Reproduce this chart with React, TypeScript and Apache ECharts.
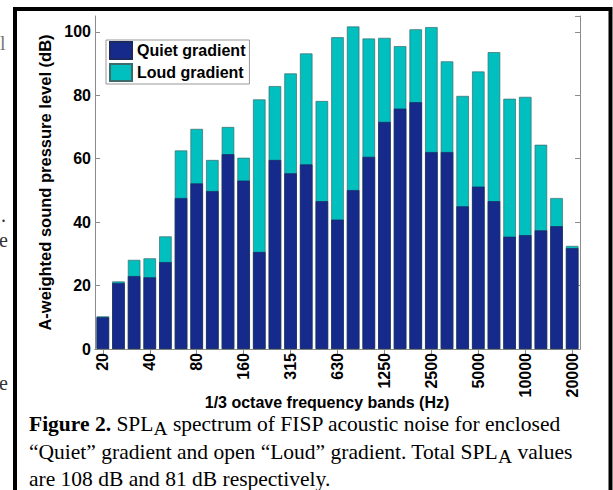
import React, { useEffect, useRef } from "react";
import * as echarts from "echarts";

const bands = ["20","25","31.5","40","50","63","80","100","125","160","200","250","315","400","500","630","800","1000","1250","1600","2000","2500","3150","4000","5000","6300","8000","10000","12500","16000","20000"];
const quiet = [10.0,20.8,23.0,22.6,27.4,47.6,52.2,49.8,61.4,53.1,30.6,59.6,55.4,58.2,46.6,40.8,50.1,60.6,71.6,75.8,77.8,62.1,62.1,45.0,51.2,46.6,35.4,35.9,37.4,38.7,31.8];
const loud = [10.3,21.3,28.1,28.6,35.5,62.6,69.4,59.6,70.0,60.3,78.7,82.9,86.9,93.2,78.2,98.3,101.7,97.9,98.1,95.5,100.8,101.5,90.7,79.8,87.5,93.6,78.9,79.5,64.4,47.6,32.5];
const seriesNames = ["Quiet gradient", "Loud gradient"];
const yTitle = "A-weighted sound pressure level (dB)";
const xTitle = "1/3 octave frequency bands (Hz)";

const SERIF = "'Liberation Serif', 'Times New Roman', serif";
const SANS = "'Liberation Sans', Arial, sans-serif";
const CAP = 21.5;

function measure(text: string, weight: string, size: number) {
  const c = document.createElement("canvas").getContext("2d")!;
  c.font = `${weight} ${size}px 'Liberation Serif'`;
  return c.measureText(text).width;
}

function captionLine(parts: { t: string; b?: boolean; sub?: boolean }[], x0: number, y: number) {
  const els: any[] = [];
  let x = x0;
  for (const p of parts) {
    const size = p.sub ? CAP - 2 : CAP;
    const weight = p.b ? "bold" : "normal";
    els.push({
      type: "text",
      x,
      y: p.sub ? y + 4 : y,
      style: {
        text: p.t,
        fontFamily: SERIF,
        fontSize: size,
        fontWeight: weight,
        fill: "#000",
        verticalAlign: "middle",
        align: "left",
      },
    });
    x += measure(p.t, weight, size);
  }
  return els;
}

export default function App() {
  const ref = useRef<HTMLDivElement>(null);
  useEffect(() => {
    const chart = echarts.init(ref.current!, undefined, { renderer: "svg" });
    const axisGray = "#8c8c8c";
    const graphics: any[] = [
      { type: "rect", shape: { x: 15, y: 9, width: 595.5, height: 620 }, style: { fill: "none", stroke: "#000", lineWidth: 4 } },
      { type: "text", x: 0, y: 43, style: { text: "l", fontFamily: SERIF, fontSize: 20, fill: "#777", verticalAlign: "middle" } },
      { type: "text", x: 1, y: 215, style: { text: ".", fontFamily: SERIF, fontSize: 20, fill: "#333", verticalAlign: "middle" } },
      { type: "text", x: -1, y: 240, style: { text: "e", fontFamily: SERIF, fontSize: 20, fill: "#333", verticalAlign: "middle" } },
      { type: "text", x: -1, y: 383, style: { text: "e", fontFamily: SERIF, fontSize: 20, fill: "#333", verticalAlign: "middle" } },
      { type: "text", x: 327, y: 402, style: { text: xTitle, fontFamily: SANS, fontSize: 16, fontWeight: "bold", fill: "#000", align: "center", verticalAlign: "middle" } },
      ...captionLine([{ t: "Figure 2.", b: true }, { t: " SPL" }, { t: "A", sub: true }, { t: " spectrum of FISP acoustic noise for enclosed" }], 29, 424),
      ...captionLine([{ t: "\u201CQuiet\u201D gradient and open \u201CLoud\u201D gradient. Total SPL" }, { t: "A", sub: true }, { t: " values" }], 29, 452),
      ...captionLine([{ t: "are 108 dB and 81 dB respectively." }], 29, 479),
    ];
    const xCommon = {
      type: "category" as const,
      data: bands,
      boundaryGap: true,
      axisLine: { show: true, lineStyle: { color: axisGray, width: 1 } },
      axisTick: { show: true, inside: true, length: 5, interval: 2, alignWithLabel: true, lineStyle: { color: axisGray } },
      splitLine: { show: false },
    };
    const yCommon = {
      type: "value" as const,
      min: 0,
      max: 105,
      interval: 20,
      axisLine: { show: true, lineStyle: { color: axisGray, width: 1 } },
      axisTick: { show: true, inside: true, length: 5, lineStyle: { color: axisGray } },
      splitLine: { show: false },
    };
    chart.setOption({
      animation: false,
      backgroundColor: "#fff",
      textStyle: { fontFamily: SANS },
      grid: { left: 95, right: 33, top: 16, bottom: 141, containLabel: false },
      legend: {
        data: seriesNames,
        orient: "vertical",
        left: 106,
        top: 40,
        itemWidth: 22,
        itemHeight: 17,
        itemGap: 3,
        padding: [1, 4, 2, 3],
        icon: "rect",
        backgroundColor: "#fff",
        borderColor: "#999",
        borderWidth: 1,
        textStyle: { fontFamily: SANS, fontSize: 16, fontWeight: "bold", color: "#000" },
      },
      xAxis: [
        {
          ...xCommon,
          position: "bottom",
          axisLabel: { interval: 2, rotate: 90, margin: 4, fontFamily: SANS, fontSize: 16, fontWeight: "bold", color: "#000" },
        },
        { ...xCommon, position: "top", axisLabel: { show: false } },
      ],
      yAxis: [
        {
          ...yCommon,
          position: "left",
          name: yTitle,
          nameLocation: "middle",
          nameGap: 31,
          nameTextStyle: { fontFamily: SANS, fontSize: 16.5, fontWeight: "bold", color: "#000" },
          axisLabel: { margin: 4, showMaxLabel: false, fontFamily: SANS, fontSize: 16, fontWeight: "bold", color: "#000" },
        },
        { ...yCommon, position: "right", axisLabel: { show: false } },
      ],
      series: [
        {
          name: seriesNames[1],
          type: "bar",
          data: loud,
          barGap: "-100%",
          barCategoryGap: "20%",
          itemStyle: { color: "#00bfbf", borderColor: "#3d6b6b", borderWidth: 0.7 },
        },
        {
          name: seriesNames[0],
          type: "bar",
          data: quiet,
          barGap: "-100%",
          barCategoryGap: "20%",
          itemStyle: { color: "#152a8a", borderColor: "#1d2a60", borderWidth: 0.7 },
        },
      ],
      graphic: graphics,
    });
    return () => chart.dispose();
  }, []);
  return <div ref={ref} style={{ position: "fixed", left: 0, top: 0, width: 613, height: 490 }} />;
}
